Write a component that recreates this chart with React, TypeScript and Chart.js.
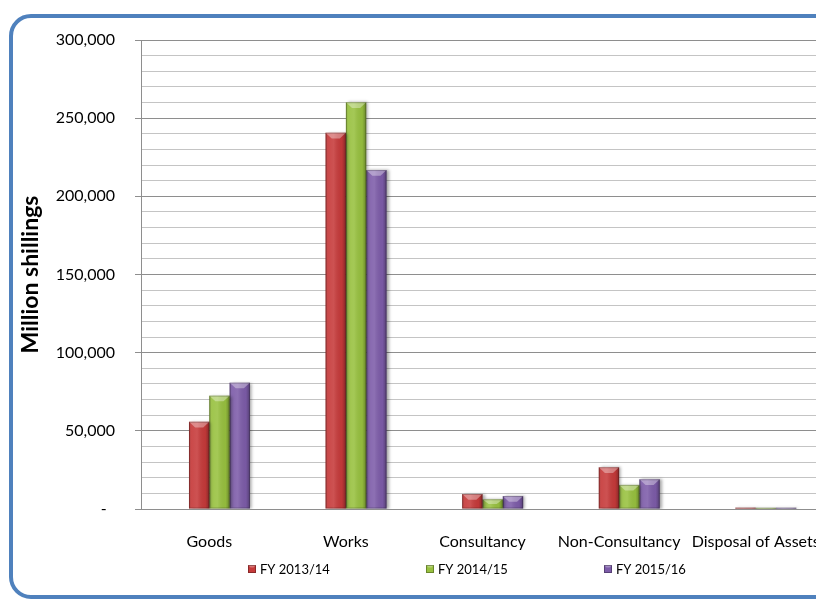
import React, { useEffect, useRef } from 'react';
import { Chart, registerables } from 'chart.js';

Chart.register(...registerables);

const categories = ['Goods', 'Works', 'Consultancy', 'Non-Consultancy', 'Disposal of Assets'];
const seriesNames = ['FY 2013/14', 'FY 2014/15', 'FY 2015/16'];
const fy201314 = [55800, 240700, 9600, 26700, 800];
const fy201415 = [72500, 260200, 6200, 15400, 700];
const fy201516 = [80800, 216800, 8300, 19000, 750];
const yMax = 300000;
const minorStep = 10000;
const majorStep = 50000;

const seriesColors = ['#C63A3A', '#98C13F', '#7D5CA9'];
const FONT = 'Lato, "Open Sans", "DejaVu Sans", sans-serif';

const framePlugin = {
  id: 'frame',
  beforeDraw(chart: any) {
    const c = chart.ctx;
    c.save();
    c.fillStyle = '#fff';
    c.fillRect(0, 0, chart.width, chart.height);
    c.strokeStyle = '#4F81BD';
    c.lineWidth = 4;
    c.beginPath();
    (c as any).roundRect(3, 8, 826, 581, 20);
    c.stroke();
    c.restore();
  },
};

const bevelPlugin = {
  id: 'bevel',
  beforeDatasetsDraw(chart: any) {
    const c = chart.ctx;
    c.save();
    c.shadowColor = 'rgba(0,0,0,0.35)';
    c.shadowBlur = 3;
    c.shadowOffsetX = 2;
    c.shadowOffsetY = 0;
  },
  afterDatasetsDraw(chart: any) {
    const c = chart.ctx;
    c.restore();
    chart.data.datasets.forEach((ds: any, di: number) => {
      if (!ds.label) return;
      const meta = chart.getDatasetMeta(di);
      meta.data.forEach((el: any) => {
        const { x, y, width, base } = el.getProps(['x', 'y', 'width', 'base'], true);
        const l = x - width / 2;
        const r = x + width / 2;
        const top = Math.min(y, base);
        const h = Math.abs(base - y);
        if (h < 0.5) return;
        c.save();
        const g = c.createLinearGradient(l, 0, r, 0);
        g.addColorStop(0, 'rgba(0,0,0,0.22)');
        g.addColorStop(0.12, 'rgba(255,255,255,0.08)');
        g.addColorStop(0.4, 'rgba(255,255,255,0.12)');
        g.addColorStop(0.8, 'rgba(0,0,0,0.04)');
        g.addColorStop(1, 'rgba(0,0,0,0.3)');
        c.fillStyle = g;
        c.fillRect(l, top, width, h);
        const ch = Math.min(width * 0.28, h / 2);
        c.beginPath();
        c.moveTo(l, top);
        c.lineTo(r, top);
        c.lineTo(r - width * 0.3, top + ch);
        c.lineTo(l + width * 0.3, top + ch);
        c.closePath();
        c.fillStyle = 'rgba(255,255,255,0.35)';
        c.fill();
        c.strokeStyle = 'rgba(0,0,0,0.22)';
        c.lineWidth = 1;
        c.strokeRect(l + 0.5, top + 0.5, width - 1, h - 1);
        c.restore();
      });
    });
  },
};

const legendPlugin = {
  id: 'customLegend',
  afterDraw(chart: any) {
    const c = chart.ctx;
    const area = chart.chartArea;
    const items = chart.data.datasets.filter((d: any) => d.label);
    const startX = area.left + 107;
    const step = 178;
    const cy = area.bottom + 60;
    c.save();
    c.font = '13px ' + FONT;
    c.textBaseline = 'middle';
    c.textAlign = 'left';
    items.forEach((d: any, i: number) => {
      const bx = startX + i * step;
      c.fillStyle = d.backgroundColor;
      c.fillRect(bx, cy - 4, 8, 8);
      c.fillStyle = 'rgba(255,255,255,0.3)';
      c.beginPath();
      c.moveTo(bx, cy - 4);
      c.lineTo(bx + 8, cy - 4);
      c.lineTo(bx + 5.5, cy - 1.5);
      c.lineTo(bx + 2.5, cy - 1.5);
      c.closePath();
      c.fill();
      c.strokeStyle = 'rgba(0,0,0,0.3)';
      c.lineWidth = 1;
      c.strokeRect(bx + 0.5, cy - 3.5, 7, 7);
      c.fillStyle = '#000';
      c.fillText(d.label, bx + 12, cy + 1);
    });
    c.restore();
  },
};

export default function App() {
  const ref = useRef<HTMLCanvasElement | null>(null);

  useEffect(() => {
    document.documentElement.style.overflow = 'hidden';
    document.body.style.overflow = 'hidden';
    const canvas = ref.current;
    if (!canvas) return;
    const isMajor = (v: number) => v % majorStep === 0;
    const chart = new Chart(canvas, {
      type: 'bar',
      data: {
        labels: categories,
        datasets: [
          { label: '', data: categories.map(() => null), backgroundColor: 'transparent' },
          { label: seriesNames[0], data: fy201314, backgroundColor: seriesColors[0] },
          { label: seriesNames[1], data: fy201415, backgroundColor: seriesColors[1] },
          { label: seriesNames[2], data: fy201516, backgroundColor: seriesColors[2] },
        ],
      },
      options: {
        responsive: false,
        animation: false,
        devicePixelRatio: 1,
        datasets: { bar: { categoryPercentage: 0.595, barPercentage: 1 } },
        layout: { padding: { top: 32, left: 0, right: 0, bottom: 0 } },
        plugins: {
          legend: { display: false },
          tooltip: { enabled: false },
        },
        scales: {
          x: {
            grid: { display: false, drawTicks: false },
            border: { color: '#8E8E8E', width: 1 },
            ticks: {
              font: { family: FONT, size: 16 },
              color: '#000',
              padding: 23,
              maxRotation: 0,
              autoSkip: false,
            },
            afterFit: (s: any) => {
              s.height = 90;
              s.paddingLeft = 0;
              s.paddingRight = 0;
            },
          },
          y: {
            min: 0,
            max: yMax,
            border: { color: '#8E8E8E', width: 1 },
            grid: {
              color: (ctx: any) => (isMajor(ctx.tick.value) ? '#8E8E8E' : '#C4C4C4'),
              tickColor: (ctx: any) => (isMajor(ctx.tick.value) ? '#8E8E8E' : 'rgba(0,0,0,0)'),
              tickLength: 6,
              lineWidth: 1,
            },
            ticks: {
              stepSize: minorStep,
              autoSkip: false,
              padding: 20,
              font: { family: FONT, size: 16 },
              color: '#000',
              callback: (v: any) => {
                const n = Number(v);
                if (!isMajor(n)) return '';
                if (n === 0) return '-  ';
                return n.toLocaleString('en-US');
              },
            },
            title: {
              display: true,
              text: 'Million shillings',
              font: { family: FONT, size: 23, weight: 'bold' },
              color: '#000',
              padding: { top: 9, bottom: 0 },
            },
            afterFit: (s: any) => {
              s.width = 133;
            },
          },
        },
      },
      plugins: [framePlugin, bevelPlugin, legendPlugin],
    } as any);
    return () => chart.destroy();
  }, []);

  return (
    <div style={{ position: 'relative', width: 816, height: 591, overflow: 'hidden' }}>
      <canvas
        ref={ref}
        width={816}
        height={591}
        style={{ position: 'absolute', left: 0, top: 0, width: 816, height: 591 }}
      />
    </div>
  );
}
